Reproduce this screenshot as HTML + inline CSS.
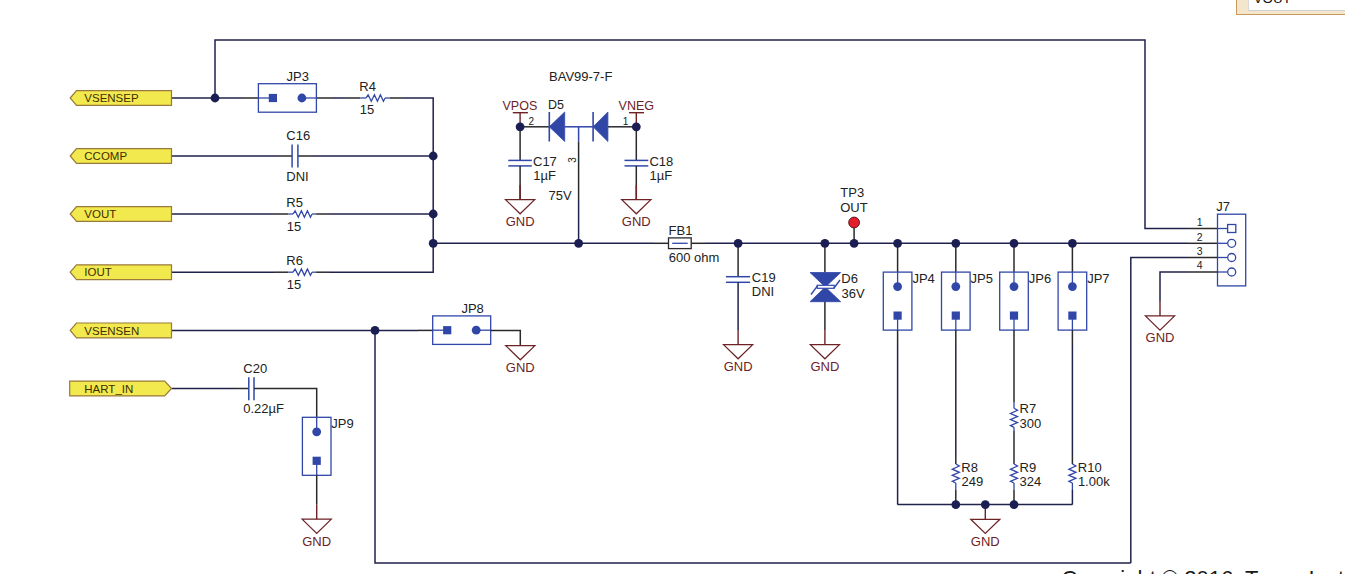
<!DOCTYPE html>
<html><head><meta charset="utf-8"><style>
html,body{margin:0;padding:0;background:#fff;}
body{width:1345px;height:574px;overflow:hidden;position:relative;font-family:"Liberation Sans", sans-serif;}
svg{position:absolute;left:0;top:0;}
svg text{font-family:"Liberation Sans", sans-serif;}
</style></head><body>
<svg width="1345" height="574" viewBox="0 0 1345 574">
<polyline points="215,98 215,40 1145,40 1145,228.5 1188,228.5" stroke="#20224c" stroke-width="1.5" fill="none" stroke-linejoin="miter"/>
<line x1="1188" y1="228.5" x2="1217.5" y2="228.5" stroke="#2a2a2e" stroke-width="1.5"/>
<line x1="171.5" y1="98" x2="244" y2="98" stroke="#20224c" stroke-width="1.5"/>
<line x1="244" y1="98" x2="258.4" y2="98" stroke="#2a2a2e" stroke-width="1.5"/>
<line x1="316.4" y1="98" x2="331" y2="98" stroke="#2a2a2e" stroke-width="1.5"/>
<line x1="331" y1="98" x2="346" y2="98" stroke="#20224c" stroke-width="1.5"/>
<line x1="346" y1="98" x2="360.3" y2="98" stroke="#2a2a2e" stroke-width="1.5"/>
<rect x="258.4" y="83.7" width="58" height="28.5" fill="none" stroke="#3147a8" stroke-width="1.3"/>
<line x1="258.4" y1="98" x2="272.9" y2="98" stroke="#3147a8" stroke-width="1.3"/>
<line x1="301.9" y1="98" x2="316.4" y2="98" stroke="#3147a8" stroke-width="1.3"/>
<rect x="268.79999999999995" y="93.9" width="8.2" height="8.2" fill="#3147a8"/>
<circle cx="301.9" cy="98" r="4.4" fill="#3147a8"/>
<line x1="360.3" y1="98" x2="366.1" y2="98" stroke="#3147a8" stroke-width="1.3"/>
<polyline points="366.1,98 368.1,94.8 371.3,101.2 374.40000000000003,94.8 377.40000000000003,101.2 380.40000000000003,94.8 383.40000000000003,101.2 385.1,98" stroke="#3147a8" stroke-width="1.3" fill="none" stroke-linejoin="miter"/>
<line x1="385.1" y1="98" x2="389.6" y2="98" stroke="#3147a8" stroke-width="1.3"/>
<line x1="389.6" y1="98" x2="404" y2="98" stroke="#2a2a2e" stroke-width="1.5"/>
<polyline points="404,98 433.2,98 433.2,272.2 404,272.2" stroke="#20224c" stroke-width="1.5" fill="none" stroke-linejoin="miter"/>
<line x1="171.5" y1="156" x2="278" y2="156" stroke="#20224c" stroke-width="1.5"/>
<line x1="278" y1="156" x2="292.1" y2="156" stroke="#2a2a2e" stroke-width="1.5"/>
<line x1="297.9" y1="156" x2="312" y2="156" stroke="#2a2a2e" stroke-width="1.5"/>
<line x1="312" y1="156" x2="433.2" y2="156" stroke="#20224c" stroke-width="1.5"/>
<line x1="292.1" y1="144.5" x2="292.1" y2="167.5" stroke="#3147a8" stroke-width="1.5"/>
<line x1="297.9" y1="144.5" x2="297.9" y2="167.5" stroke="#3147a8" stroke-width="1.5"/>
<line x1="171.5" y1="214.0" x2="274" y2="214.0" stroke="#20224c" stroke-width="1.5"/>
<line x1="274" y1="214.0" x2="288.3" y2="214.0" stroke="#2a2a2e" stroke-width="1.5"/>
<line x1="288.3" y1="214.0" x2="293.1" y2="214.0" stroke="#3147a8" stroke-width="1.3"/>
<polyline points="293.1,214.0 295.1,210.8 298.3,217.2 301.40000000000003,210.8 304.40000000000003,217.2 307.40000000000003,210.8 310.40000000000003,217.2 312.1,214.0" stroke="#3147a8" stroke-width="1.3" fill="none" stroke-linejoin="miter"/>
<line x1="312.1" y1="214.0" x2="316.1" y2="214.0" stroke="#3147a8" stroke-width="1.3"/>
<line x1="316.1" y1="214.0" x2="330" y2="214.0" stroke="#2a2a2e" stroke-width="1.5"/>
<line x1="330" y1="214.0" x2="433.2" y2="214.0" stroke="#20224c" stroke-width="1.5"/>
<line x1="171.5" y1="272.2" x2="274" y2="272.2" stroke="#20224c" stroke-width="1.5"/>
<line x1="274" y1="272.2" x2="288.3" y2="272.2" stroke="#2a2a2e" stroke-width="1.5"/>
<line x1="288.3" y1="272.2" x2="293.1" y2="272.2" stroke="#3147a8" stroke-width="1.3"/>
<polyline points="293.1,272.2 295.1,269.0 298.3,275.4 301.40000000000003,269.0 304.40000000000003,275.4 307.40000000000003,269.0 310.40000000000003,275.4 312.1,272.2" stroke="#3147a8" stroke-width="1.3" fill="none" stroke-linejoin="miter"/>
<line x1="312.1" y1="272.2" x2="316.1" y2="272.2" stroke="#3147a8" stroke-width="1.3"/>
<line x1="316.1" y1="272.2" x2="330" y2="272.2" stroke="#2a2a2e" stroke-width="1.5"/>
<line x1="330" y1="272.2" x2="404" y2="272.2" stroke="#20224c" stroke-width="1.5"/>
<line x1="433.2" y1="243.3" x2="654" y2="243.3" stroke="#20224c" stroke-width="1.5"/>
<line x1="654" y1="243.3" x2="668.5" y2="243.3" stroke="#2a2a2e" stroke-width="1.5"/>
<rect x="668.5" y="237.9" width="22.7" height="10.7" fill="none" stroke="#2a2a2e" stroke-width="1.3"/>
<line x1="672.2" y1="243.3" x2="687.7" y2="243.3" stroke="#3147a8" stroke-width="1.3"/>
<line x1="691.2" y1="243.3" x2="705" y2="243.3" stroke="#2a2a2e" stroke-width="1.5"/>
<line x1="705" y1="243.3" x2="1188" y2="243.3" stroke="#20224c" stroke-width="1.5"/>
<line x1="1188" y1="243.3" x2="1217.5" y2="243.3" stroke="#2a2a2e" stroke-width="1.5"/>
<line x1="578.6" y1="126.8" x2="578.6" y2="141.5" stroke="#3147a8" stroke-width="1.5"/>
<line x1="578.6" y1="141.5" x2="578.6" y2="200" stroke="#2a2a2e" stroke-width="1.5"/>
<line x1="578.6" y1="200" x2="578.6" y2="243.3" stroke="#20224c" stroke-width="1.5"/>
<line x1="520.1" y1="112.7" x2="520.1" y2="126.8" stroke="#6e2226" stroke-width="1.4"/>
<line x1="512.8" y1="112.7" x2="527.9" y2="112.7" stroke="#6e2226" stroke-width="1.4"/>
<line x1="520.1" y1="126.8" x2="549.3" y2="126.8" stroke="#2a2a2e" stroke-width="1.5"/>
<line x1="520.1" y1="126.8" x2="520.1" y2="160.4" stroke="#2a2a2e" stroke-width="1.5"/>
<line x1="508.3" y1="160.4" x2="531.8" y2="160.4" stroke="#3147a8" stroke-width="1.5"/>
<line x1="508.3" y1="165.9" x2="531.8" y2="165.9" stroke="#3147a8" stroke-width="1.5"/>
<line x1="520.1" y1="165.9" x2="520.1" y2="199.6" stroke="#2a2a2e" stroke-width="1.5"/>
<line x1="520.1" y1="185" x2="520.1" y2="199.6" stroke="#6e2226" stroke-width="1.4"/>
<polygon points="505.5,199.6 534.7,199.6 520.1,213.79999999999998" stroke="#6e2226" stroke-width="1.2" fill="none" stroke-linejoin="miter"/>
<text x="520.1" y="225.9" font-size="13" fill="#6e2226" text-anchor="middle" >GND</text>
<line x1="636.3" y1="112.7" x2="636.3" y2="126.8" stroke="#6e2226" stroke-width="1.4"/>
<line x1="629.0" y1="112.7" x2="644.0" y2="112.7" stroke="#6e2226" stroke-width="1.4"/>
<line x1="607.9" y1="126.8" x2="636.3" y2="126.8" stroke="#2a2a2e" stroke-width="1.5"/>
<line x1="636.3" y1="126.8" x2="636.3" y2="160.4" stroke="#2a2a2e" stroke-width="1.5"/>
<line x1="624.5" y1="160.4" x2="648.3" y2="160.4" stroke="#3147a8" stroke-width="1.5"/>
<line x1="624.5" y1="165.9" x2="648.3" y2="165.9" stroke="#3147a8" stroke-width="1.5"/>
<line x1="636.3" y1="165.9" x2="636.3" y2="199.6" stroke="#2a2a2e" stroke-width="1.5"/>
<line x1="636.3" y1="185" x2="636.3" y2="199.6" stroke="#6e2226" stroke-width="1.4"/>
<polygon points="621.6999999999999,199.6 650.9,199.6 636.3,213.79999999999998" stroke="#6e2226" stroke-width="1.2" fill="none" stroke-linejoin="miter"/>
<text x="636.3" y="225.9" font-size="13" fill="#6e2226" text-anchor="middle" >GND</text>
<line x1="549.3" y1="112" x2="549.3" y2="141.5" stroke="#3147a8" stroke-width="1.6"/>
<polygon points="549.3,126.8 564.7,112 564.7,141.5" stroke="#3147a8" stroke-width="0.8" fill="#3147a8" stroke-linejoin="miter"/>
<line x1="564.7" y1="126.8" x2="593.1" y2="126.8" stroke="#3147a8" stroke-width="1.5"/>
<line x1="593.1" y1="112" x2="593.1" y2="141.5" stroke="#3147a8" stroke-width="1.6"/>
<polygon points="593.1,126.8 607.9,112 607.9,141.5" stroke="#3147a8" stroke-width="0.8" fill="#3147a8" stroke-linejoin="miter"/>
<line x1="738.1" y1="243.3" x2="738.1" y2="276.7" stroke="#2a2a2e" stroke-width="1.5"/>
<line x1="725.9" y1="276.7" x2="750.1" y2="276.7" stroke="#3147a8" stroke-width="1.5"/>
<line x1="725.9" y1="282.3" x2="750.1" y2="282.3" stroke="#3147a8" stroke-width="1.5"/>
<line x1="738.1" y1="282.3" x2="738.1" y2="330" stroke="#20224c" stroke-width="1.5"/>
<line x1="738.1" y1="330" x2="738.1" y2="344.6" stroke="#6e2226" stroke-width="1.4"/>
<polygon points="723.5,344.6 752.7,344.6 738.1,358.8" stroke="#6e2226" stroke-width="1.2" fill="none" stroke-linejoin="miter"/>
<text x="738.1" y="370.90000000000003" font-size="13" fill="#6e2226" text-anchor="middle" >GND</text>
<line x1="824.9" y1="243.3" x2="824.9" y2="272.5" stroke="#2a2a2e" stroke-width="1.5"/>
<polygon points="810,272.5 840.7,272.5 825.3,287" stroke="#3147a8" stroke-width="0.8" fill="#3147a8" stroke-linejoin="miter"/>
<polygon points="810,301.7 840.7,301.7 825.3,287" stroke="#3147a8" stroke-width="0.8" fill="#3147a8" stroke-linejoin="miter"/>
<rect x="817.2" y="285.3" width="17" height="3" fill="#fff" stroke="#3147a8" stroke-width="1.2"/>
<line x1="811" y1="294.5" x2="817.5" y2="285.8" stroke="#3147a8" stroke-width="1.4"/>
<line x1="834" y1="288" x2="840" y2="280" stroke="#3147a8" stroke-width="1.4"/>
<line x1="824.9" y1="301.7" x2="824.9" y2="330" stroke="#2a2a2e" stroke-width="1.5"/>
<line x1="824.9" y1="330" x2="824.9" y2="344.6" stroke="#6e2226" stroke-width="1.4"/>
<polygon points="810.3,344.6 839.5,344.6 824.9,358.8" stroke="#6e2226" stroke-width="1.2" fill="none" stroke-linejoin="miter"/>
<text x="824.9" y="370.90000000000003" font-size="13" fill="#6e2226" text-anchor="middle" >GND</text>
<line x1="854.1" y1="243.3" x2="854.1" y2="228" stroke="#2a2a2e" stroke-width="1.5"/>
<circle cx="854.1" cy="222.5" r="5.4" fill="#e31e2a" stroke="#5a1618" stroke-width="1"/>
<line x1="897.6" y1="243.3" x2="897.6" y2="272.1" stroke="#2a2a2e" stroke-width="1.5"/>
<rect x="883.3000000000001" y="272.1" width="28.6" height="58" fill="none" stroke="#3147a8" stroke-width="1.3"/>
<line x1="897.6" y1="272.1" x2="897.6" y2="286.6" stroke="#3147a8" stroke-width="1.3"/>
<line x1="897.6" y1="315.6" x2="897.6" y2="330.1" stroke="#3147a8" stroke-width="1.3"/>
<circle cx="897.6" cy="286.6" r="4.4" fill="#3147a8"/>
<rect x="893.5" y="311.5" width="8.2" height="8.2" fill="#3147a8"/>
<line x1="897.6" y1="330.1" x2="897.6" y2="345" stroke="#2a2a2e" stroke-width="1.5"/>
<line x1="955.8" y1="243.3" x2="955.8" y2="272.1" stroke="#2a2a2e" stroke-width="1.5"/>
<rect x="941.5" y="272.1" width="28.6" height="58" fill="none" stroke="#3147a8" stroke-width="1.3"/>
<line x1="955.8" y1="272.1" x2="955.8" y2="286.6" stroke="#3147a8" stroke-width="1.3"/>
<line x1="955.8" y1="315.6" x2="955.8" y2="330.1" stroke="#3147a8" stroke-width="1.3"/>
<circle cx="955.8" cy="286.6" r="4.4" fill="#3147a8"/>
<rect x="951.6999999999999" y="311.5" width="8.2" height="8.2" fill="#3147a8"/>
<line x1="955.8" y1="330.1" x2="955.8" y2="345" stroke="#2a2a2e" stroke-width="1.5"/>
<line x1="1014.0" y1="243.3" x2="1014.0" y2="272.1" stroke="#2a2a2e" stroke-width="1.5"/>
<rect x="999.7" y="272.1" width="28.6" height="58" fill="none" stroke="#3147a8" stroke-width="1.3"/>
<line x1="1014.0" y1="272.1" x2="1014.0" y2="286.6" stroke="#3147a8" stroke-width="1.3"/>
<line x1="1014.0" y1="315.6" x2="1014.0" y2="330.1" stroke="#3147a8" stroke-width="1.3"/>
<circle cx="1014.0" cy="286.6" r="4.4" fill="#3147a8"/>
<rect x="1009.9" y="311.5" width="8.2" height="8.2" fill="#3147a8"/>
<line x1="1014.0" y1="330.1" x2="1014.0" y2="345" stroke="#2a2a2e" stroke-width="1.5"/>
<line x1="1072.4" y1="243.3" x2="1072.4" y2="272.1" stroke="#2a2a2e" stroke-width="1.5"/>
<rect x="1058.1000000000001" y="272.1" width="28.6" height="58" fill="none" stroke="#3147a8" stroke-width="1.3"/>
<line x1="1072.4" y1="272.1" x2="1072.4" y2="286.6" stroke="#3147a8" stroke-width="1.3"/>
<line x1="1072.4" y1="315.6" x2="1072.4" y2="330.1" stroke="#3147a8" stroke-width="1.3"/>
<circle cx="1072.4" cy="286.6" r="4.4" fill="#3147a8"/>
<rect x="1068.3000000000002" y="311.5" width="8.2" height="8.2" fill="#3147a8"/>
<line x1="1072.4" y1="330.1" x2="1072.4" y2="345" stroke="#2a2a2e" stroke-width="1.5"/>
<line x1="897.6" y1="345" x2="897.6" y2="504.6" stroke="#20224c" stroke-width="1.5"/>
<line x1="955.8" y1="345" x2="955.8" y2="455" stroke="#20224c" stroke-width="1.5"/>
<line x1="955.8" y1="455" x2="955.8" y2="464" stroke="#2a2a2e" stroke-width="1.5"/>
<polyline points="955.8,464 959.3,466 952.3,469.2 959.3,472.3 952.3,475.3 959.3,478.3 952.3,481.3 955.8,483" stroke="#3147a8" stroke-width="1.3" fill="none" stroke-linejoin="miter"/>
<line x1="955.8" y1="483" x2="955.8" y2="490" stroke="#3147a8" stroke-width="1.3"/>
<line x1="955.8" y1="490" x2="955.8" y2="504.6" stroke="#2a2a2e" stroke-width="1.5"/>
<line x1="1014" y1="345" x2="1014" y2="402" stroke="#2a2a2e" stroke-width="1.5"/>
<line x1="1014" y1="402" x2="1014" y2="408.3" stroke="#3147a8" stroke-width="1.3"/>
<polyline points="1014,408.3 1017.5,410.3 1010.5,413.5 1017.5,416.6 1010.5,419.6 1017.5,422.6 1010.5,425.6 1014,427.3" stroke="#3147a8" stroke-width="1.3" fill="none" stroke-linejoin="miter"/>
<line x1="1014" y1="427.3" x2="1014" y2="431" stroke="#3147a8" stroke-width="1.3"/>
<line x1="1014" y1="431" x2="1014" y2="455" stroke="#2a2a2e" stroke-width="1.5"/>
<line x1="1014" y1="455" x2="1014" y2="464" stroke="#2a2a2e" stroke-width="1.5"/>
<polyline points="1014,464 1017.5,466 1010.5,469.2 1017.5,472.3 1010.5,475.3 1017.5,478.3 1010.5,481.3 1014,483" stroke="#3147a8" stroke-width="1.3" fill="none" stroke-linejoin="miter"/>
<line x1="1014" y1="483" x2="1014" y2="490" stroke="#3147a8" stroke-width="1.3"/>
<line x1="1014" y1="490" x2="1014" y2="504.6" stroke="#2a2a2e" stroke-width="1.5"/>
<line x1="1072.4" y1="345" x2="1072.4" y2="455" stroke="#20224c" stroke-width="1.5"/>
<line x1="1072.4" y1="455" x2="1072.4" y2="464" stroke="#2a2a2e" stroke-width="1.5"/>
<polyline points="1072.4,464 1075.9,466 1068.9,469.2 1075.9,472.3 1068.9,475.3 1075.9,478.3 1068.9,481.3 1072.4,483" stroke="#3147a8" stroke-width="1.3" fill="none" stroke-linejoin="miter"/>
<line x1="1072.4" y1="483" x2="1072.4" y2="490" stroke="#3147a8" stroke-width="1.3"/>
<line x1="1072.4" y1="490" x2="1072.4" y2="504.6" stroke="#20224c" stroke-width="1.5"/>
<line x1="897.6" y1="504.6" x2="1072.4" y2="504.6" stroke="#20224c" stroke-width="1.5"/>
<line x1="985.3" y1="504.6" x2="985.3" y2="519.3" stroke="#6e2226" stroke-width="1.4"/>
<polygon points="970.6999999999999,519.3 999.9,519.3 985.3,533.5" stroke="#6e2226" stroke-width="1.2" fill="none" stroke-linejoin="miter"/>
<text x="985.3" y="545.5999999999999" font-size="13" fill="#6e2226" text-anchor="middle" >GND</text>
<rect x="1217.5" y="214.2" width="28.2" height="71.7" fill="none" stroke="#3147a8" stroke-width="1.3"/>
<line x1="1217.5" y1="228.5" x2="1227.5" y2="228.5" stroke="#3147a8" stroke-width="1.3"/>
<rect x="1227.6" y="224.5" width="8.2" height="8" fill="#fff" stroke="#3147a8" stroke-width="1.3"/>
<text x="1199.7" y="225.9" font-size="10.5" fill="#222222" text-anchor="middle" >1</text>
<line x1="1217.5" y1="243.3" x2="1227.5" y2="243.3" stroke="#3147a8" stroke-width="1.3"/>
<circle cx="1231.7" cy="243.3" r="4" fill="#fff" stroke="#3147a8" stroke-width="1.3"/>
<text x="1199.7" y="240.70000000000002" font-size="10.5" fill="#222222" text-anchor="middle" >2</text>
<line x1="1217.5" y1="257.5" x2="1227.5" y2="257.5" stroke="#3147a8" stroke-width="1.3"/>
<circle cx="1231.7" cy="257.5" r="4" fill="#fff" stroke="#3147a8" stroke-width="1.3"/>
<text x="1199.7" y="254.9" font-size="10.5" fill="#222222" text-anchor="middle" >3</text>
<line x1="1217.5" y1="272.0" x2="1227.5" y2="272.0" stroke="#3147a8" stroke-width="1.3"/>
<circle cx="1231.7" cy="272.0" r="4" fill="#fff" stroke="#3147a8" stroke-width="1.3"/>
<text x="1199.7" y="269.4" font-size="10.5" fill="#222222" text-anchor="middle" >4</text>
<polyline points="1130.8,562.9 1130.8,257.5 1188,257.5" stroke="#20224c" stroke-width="1.5" fill="none" stroke-linejoin="miter"/>
<line x1="1188" y1="257.5" x2="1217.5" y2="257.5" stroke="#2a2a2e" stroke-width="1.5"/>
<polyline points="1160,301 1160,272 1188,272" stroke="#20224c" stroke-width="1.5" fill="none" stroke-linejoin="miter"/>
<line x1="1188" y1="272" x2="1217.5" y2="272" stroke="#2a2a2e" stroke-width="1.5"/>
<line x1="1160" y1="301" x2="1160" y2="315.9" stroke="#6e2226" stroke-width="1.4"/>
<polygon points="1145.4,315.9 1174.6,315.9 1160,330.09999999999997" stroke="#6e2226" stroke-width="1.2" fill="none" stroke-linejoin="miter"/>
<text x="1160" y="342.2" font-size="13" fill="#6e2226" text-anchor="middle" >GND</text>
<polyline points="375,330.4 375,562.9 1130.8,562.9" stroke="#20224c" stroke-width="1.5" fill="none" stroke-linejoin="miter"/>
<line x1="171.5" y1="330.4" x2="418" y2="330.4" stroke="#20224c" stroke-width="1.5"/>
<line x1="418" y1="330.4" x2="433" y2="330.4" stroke="#2a2a2e" stroke-width="1.5"/>
<rect x="432.7" y="315.9" width="58" height="28.5" fill="none" stroke="#3147a8" stroke-width="1.3"/>
<line x1="432.7" y1="330.2" x2="447.2" y2="330.2" stroke="#3147a8" stroke-width="1.3"/>
<line x1="476.2" y1="330.2" x2="490.7" y2="330.2" stroke="#3147a8" stroke-width="1.3"/>
<rect x="443.09999999999997" y="326.09999999999997" width="8.2" height="8.2" fill="#3147a8"/>
<circle cx="476.2" cy="330.2" r="4.4" fill="#3147a8"/>
<polyline points="490.5,330.4 520.3,330.4 520.3,345.6" stroke="#2a2a2e" stroke-width="1.5" fill="none" stroke-linejoin="miter"/>
<polygon points="505.69999999999993,345.6 534.9,345.6 520.3,359.8" stroke="#6e2226" stroke-width="1.2" fill="none" stroke-linejoin="miter"/>
<text x="520.3" y="371.90000000000003" font-size="13" fill="#6e2226" text-anchor="middle" >GND</text>
<line x1="171.5" y1="388.5" x2="234" y2="388.5" stroke="#20224c" stroke-width="1.5"/>
<line x1="234" y1="388.5" x2="248.8" y2="388.5" stroke="#2a2a2e" stroke-width="1.5"/>
<line x1="248.8" y1="377.2" x2="248.8" y2="400.3" stroke="#3147a8" stroke-width="1.5"/>
<line x1="254" y1="377.2" x2="254" y2="400.3" stroke="#3147a8" stroke-width="1.5"/>
<polyline points="254,388.5 316.7,388.5 316.7,417.5" stroke="#2a2a2e" stroke-width="1.5" fill="none" stroke-linejoin="miter"/>
<rect x="302.4" y="417.3" width="28.6" height="58" fill="none" stroke="#3147a8" stroke-width="1.3"/>
<line x1="316.7" y1="417.3" x2="316.7" y2="431.8" stroke="#3147a8" stroke-width="1.3"/>
<line x1="316.7" y1="460.8" x2="316.7" y2="475.3" stroke="#3147a8" stroke-width="1.3"/>
<circle cx="316.7" cy="431.8" r="4.4" fill="#3147a8"/>
<rect x="312.59999999999997" y="456.7" width="8.2" height="8.2" fill="#3147a8"/>
<line x1="316.7" y1="475.2" x2="316.7" y2="504.7" stroke="#2a2a2e" stroke-width="1.5"/>
<line x1="316.7" y1="504.7" x2="316.7" y2="519.2" stroke="#6e2226" stroke-width="1.4"/>
<polygon points="302.09999999999997,519.2 331.3,519.2 316.7,533.4000000000001" stroke="#6e2226" stroke-width="1.2" fill="none" stroke-linejoin="miter"/>
<text x="316.7" y="545.5" font-size="13" fill="#6e2226" text-anchor="middle" >GND</text>
<circle cx="215" cy="98" r="4.4" fill="#1a1e52"/>
<circle cx="433.2" cy="156" r="4.4" fill="#1a1e52"/>
<circle cx="433.2" cy="214" r="4.4" fill="#1a1e52"/>
<circle cx="433.2" cy="243.3" r="4.4" fill="#1a1e52"/>
<circle cx="578.6" cy="243.3" r="4.4" fill="#1a1e52"/>
<circle cx="520.1" cy="126.8" r="4.4" fill="#1a1e52"/>
<circle cx="636.3" cy="126.8" r="4.4" fill="#1a1e52"/>
<circle cx="738.1" cy="243.3" r="4.4" fill="#1a1e52"/>
<circle cx="824.9" cy="243.3" r="4.4" fill="#1a1e52"/>
<circle cx="854.1" cy="243.3" r="4.4" fill="#1a1e52"/>
<circle cx="897.6" cy="243.3" r="4.4" fill="#1a1e52"/>
<circle cx="955.8" cy="243.3" r="4.4" fill="#1a1e52"/>
<circle cx="1014" cy="243.3" r="4.4" fill="#1a1e52"/>
<circle cx="1072.4" cy="243.3" r="4.4" fill="#1a1e52"/>
<circle cx="955.8" cy="504.6" r="4.4" fill="#1a1e52"/>
<circle cx="985.3" cy="504.6" r="4.4" fill="#1a1e52"/>
<circle cx="1014" cy="504.6" r="4.4" fill="#1a1e52"/>
<circle cx="375" cy="330.4" r="4.4" fill="#1a1e52"/>
<polygon points="70.2,98 76.5,90.6 171.5,90.6 171.5,105.4 76.5,105.4" stroke="#9a7a3a" stroke-width="1.2" fill="#f2e94f" stroke-linejoin="miter"/>
<text x="84.3" y="102.2" font-size="11.5" fill="#3f2e00" text-anchor="start" >VSENSEP</text>
<polygon points="70.2,156 76.5,148.6 171.5,148.6 171.5,163.4 76.5,163.4" stroke="#9a7a3a" stroke-width="1.2" fill="#f2e94f" stroke-linejoin="miter"/>
<text x="84.3" y="160.2" font-size="11.5" fill="#3f2e00" text-anchor="start" >CCOMP</text>
<polygon points="70.2,214 76.5,206.6 171.5,206.6 171.5,221.4 76.5,221.4" stroke="#9a7a3a" stroke-width="1.2" fill="#f2e94f" stroke-linejoin="miter"/>
<text x="84.3" y="218.2" font-size="11.5" fill="#3f2e00" text-anchor="start" >VOUT</text>
<polygon points="70.2,272.2 76.5,264.8 171.5,264.8 171.5,279.59999999999997 76.5,279.59999999999997" stroke="#9a7a3a" stroke-width="1.2" fill="#f2e94f" stroke-linejoin="miter"/>
<text x="84.3" y="276.4" font-size="11.5" fill="#3f2e00" text-anchor="start" >IOUT</text>
<polygon points="70.2,330.4 76.5,323.0 171.5,323.0 171.5,337.79999999999995 76.5,337.79999999999995" stroke="#9a7a3a" stroke-width="1.2" fill="#f2e94f" stroke-linejoin="miter"/>
<text x="84.3" y="334.59999999999997" font-size="11.5" fill="#3f2e00" text-anchor="start" >VSENSEN</text>
<polygon points="69.7,381.1 164.7,381.1 171.5,388.5 164.7,395.9 69.7,395.9" stroke="#9a7a3a" stroke-width="1.2" fill="#f2e94f" stroke-linejoin="miter"/>
<text x="84.3" y="392.7" font-size="11.5" fill="#3f2e00" text-anchor="start" >HART_IN</text>
<text x="286.5" y="80.6" font-size="13" fill="#222222" text-anchor="start" >JP3</text>
<text x="359.3" y="90.6" font-size="13" fill="#222222" text-anchor="start" >R4</text>
<text x="359.8" y="114.1" font-size="13" fill="#222222" text-anchor="start" >15</text>
<text x="286.3" y="139.8" font-size="13" fill="#222222" text-anchor="start" >C16</text>
<text x="286.3" y="180.6" font-size="13" fill="#222222" text-anchor="start" >DNI</text>
<text x="286.3" y="207" font-size="13" fill="#222222" text-anchor="start" >R5</text>
<text x="286.8" y="230.5" font-size="13" fill="#222222" text-anchor="start" >15</text>
<text x="286.3" y="265.2" font-size="13" fill="#222222" text-anchor="start" >R6</text>
<text x="286.8" y="288.7" font-size="13" fill="#222222" text-anchor="start" >15</text>
<text x="549" y="80.8" font-size="13" fill="#222222" text-anchor="start" >BAV99-7-F</text>
<text x="502.5" y="110" font-size="12.5" fill="#6e2226" text-anchor="start" >VPOS</text>
<text x="548" y="109.3" font-size="12.5" fill="#222222" text-anchor="start" >D5</text>
<text x="618.6" y="110" font-size="12.5" fill="#6e2226" text-anchor="start" >VNEG</text>
<text x="528.5" y="125.2" font-size="10" fill="#222222" text-anchor="start" >2</text>
<text x="622.8" y="125.2" font-size="10" fill="#222222" text-anchor="start" >1</text>
<text x="533" y="166" font-size="13" fill="#222222" text-anchor="start" >C17</text>
<text x="533.3" y="180.1" font-size="13" fill="#222222" text-anchor="start" >1µF</text>
<text x="548.6" y="199.6" font-size="13" fill="#222222" text-anchor="start" >75V</text>
<text x="0" y="0" font-size="10" fill="#222222" transform="translate(576.2,162.8) rotate(-90)">3</text>
<text x="649.4" y="166" font-size="13" fill="#222222" text-anchor="start" >C18</text>
<text x="649.6" y="180.1" font-size="13" fill="#222222" text-anchor="start" >1µF</text>
<text x="668.6" y="234.8" font-size="13" fill="#222222" text-anchor="start" >FB1</text>
<text x="668.8" y="261.8" font-size="13" fill="#222222" text-anchor="start" >600 ohm</text>
<text x="751.8" y="282.4" font-size="13" fill="#222222" text-anchor="start" >C19</text>
<text x="751.8" y="296.3" font-size="13" fill="#222222" text-anchor="start" >DNI</text>
<text x="841.3" y="282.7" font-size="13" fill="#222222" text-anchor="start" >D6</text>
<text x="841.6" y="297.6" font-size="13" fill="#222222" text-anchor="start" >36V</text>
<text x="840.3" y="197" font-size="13" fill="#222222" text-anchor="start" >TP3</text>
<text x="840.2" y="212" font-size="13" fill="#222222" text-anchor="start" >OUT</text>
<text x="912.4" y="282.6" font-size="13" fill="#222222" text-anchor="start" >JP4</text>
<text x="970.5999999999999" y="282.6" font-size="13" fill="#222222" text-anchor="start" >JP5</text>
<text x="1028.8" y="282.6" font-size="13" fill="#222222" text-anchor="start" >JP6</text>
<text x="1087.2" y="282.6" font-size="13" fill="#222222" text-anchor="start" >JP7</text>
<text x="1019.5" y="412.5" font-size="13" fill="#222222" text-anchor="start" >R7</text>
<text x="1019.6" y="427.8" font-size="13" fill="#222222" text-anchor="start" >300</text>
<text x="961.3" y="471.8" font-size="13" fill="#222222" text-anchor="start" >R8</text>
<text x="961.5" y="486" font-size="13" fill="#222222" text-anchor="start" >249</text>
<text x="1019.5" y="471.8" font-size="13" fill="#222222" text-anchor="start" >R9</text>
<text x="1019.6" y="486" font-size="13" fill="#222222" text-anchor="start" >324</text>
<text x="1077.8" y="471.8" font-size="13" fill="#222222" text-anchor="start" >R10</text>
<text x="1077.9" y="486" font-size="13" fill="#222222" text-anchor="start" >1.00k</text>
<text x="1216.2" y="211.4" font-size="13" fill="#222222" text-anchor="start" >J7</text>
<text x="461.4" y="312.7" font-size="13" fill="#222222" text-anchor="start" >JP8</text>
<text x="243.3" y="373" font-size="13" fill="#222222" text-anchor="start" >C20</text>
<text x="243.2" y="413.2" font-size="13" fill="#222222" text-anchor="start" >0.22µF</text>
<text x="331.3" y="428" font-size="13" fill="#222222" text-anchor="start" >JP9</text>
<text x="1061.6" y="586.4" font-size="22" fill="#1a1a1a" text-anchor="start" >Copyright © 2016, Texas Instruments Incorporated</text>
</svg>
<div style="position:absolute;left:1236px;top:-20px;width:140px;height:34.5px;background:#f4e6cc;border:1.5px solid #c79a5a;box-sizing:border-box;"></div>
<div style="position:absolute;left:1248px;top:-20px;width:120px;height:31px;background:#fff;border-left:1px solid #d8d8d8;border-bottom:1.5px solid #cfcfcf;box-sizing:border-box;"></div>
<div style="position:absolute;left:1253.5px;top:-9px;font-size:13.5px;color:#111;">VOUT</div>
</body></html>
